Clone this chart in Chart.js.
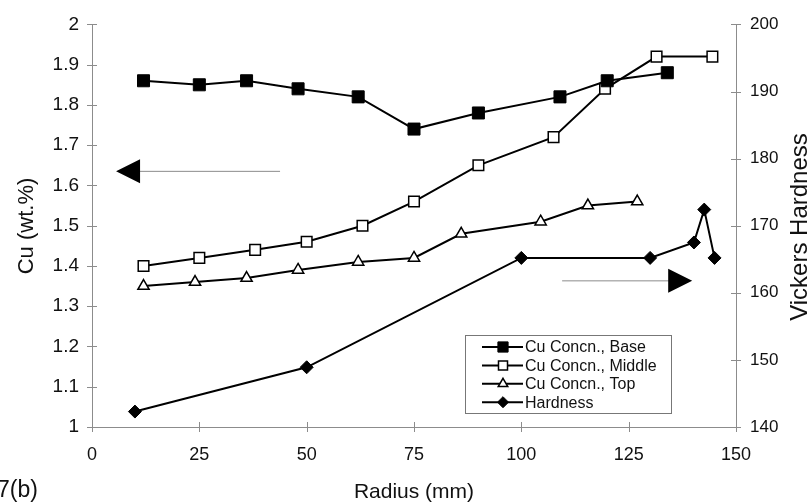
<!DOCTYPE html>
<html>
<head>
<meta charset="utf-8">
<style>
  html, body { margin: 0; padding: 0; background: #fff; }
  canvas { display: block; }
</style>
<script src="https://cdn.jsdelivr.net/npm/chart.js@4.4.0/dist/chart.umd.min.js"></script>
</head>
<body>
<canvas id="chartCanvas" width="811" height="503"></canvas>
<script>
// Radius (mm) and readings, taken off the figure
const baseRadius = [12, 25, 36, 48, 62, 75, 90, 109, 120, 134];
const baseCu = [1.86, 1.85, 1.86, 1.84, 1.82, 1.74, 1.78, 1.82, 1.86, 1.88];

const middleRadius = [12, 25, 38, 50, 63, 75, 90, 107.5, 119.5, 131.5, 144.5];
const middleCu = [1.40, 1.42, 1.44, 1.46, 1.50, 1.56, 1.65, 1.72, 1.84, 1.92, 1.92];

const topRadius = [12, 24, 36, 48, 62, 75, 86, 104.5, 115.5, 127];
const topCu = [1.35, 1.36, 1.37, 1.39, 1.41, 1.42, 1.48, 1.51, 1.55, 1.56];

const hardRadius = [10, 50, 100, 130, 140.2, 142.6, 145];
const hardness = [142.3, 148.9, 165.2, 165.2, 167.5, 172.4, 165.2];

const legendLabels = ['Cu Concn., Base', 'Cu Concn., Middle', 'Cu Concn., Top', 'Hardness'];
const xTitle = 'Radius (mm)';
const yTitle = 'Cu (wt.%)';
const y1Title = 'Vickers Hardness';
const panelLabel = '7(b)';

const FONT = '"Liberation Sans", Arial, sans-serif';
const AXIS_GREY = '#8c8c8c';

function toPoints(xs, ys) {
  return xs.map(function(x, i) { return { x: x, y: ys[i] }; });
}

// Crossing tick marks, arrows, titles and the boxed legend
const extrasPlugin = {
  id: 'extras',
  afterDraw(chart) {
    const ctx = chart.ctx;
    const area = chart.chartArea;
    const x = chart.scales.x;
    const y = chart.scales.y;
    const y1 = chart.scales.y1;

    ctx.save();
    ctx.strokeStyle = AXIS_GREY;
    ctx.lineWidth = 1;
    ctx.beginPath();
    x.ticks.forEach(function(t) {
      const px = Math.round(x.getPixelForValue(t.value)) + 0.5;
      ctx.moveTo(px, area.bottom - 5);
      ctx.lineTo(px, area.bottom + 5);
    });
    y.ticks.forEach(function(t) {
      const py = Math.round(y.getPixelForValue(t.value)) + 0.5;
      ctx.moveTo(area.left - 5, py);
      ctx.lineTo(area.left + 5, py);
    });
    y1.ticks.forEach(function(t) {
      const py = Math.round(y1.getPixelForValue(t.value)) + 0.5;
      ctx.moveTo(area.right - 5, py);
      ctx.lineTo(area.right + 5, py);
    });
    ctx.stroke();

    // arrow pointing at the left axis
    const ly = y.getPixelForValue(1.635);
    ctx.beginPath();
    ctx.moveTo(x.getPixelForValue(11), ly);
    ctx.lineTo(x.getPixelForValue(43.8), ly);
    ctx.stroke();
    ctx.fillStyle = '#000';
    ctx.beginPath();
    ctx.moveTo(x.getPixelForValue(5.6), ly);
    ctx.lineTo(x.getPixelForValue(11.2), ly - 12);
    ctx.lineTo(x.getPixelForValue(11.2), ly + 12);
    ctx.closePath();
    ctx.fill();

    // arrow pointing at the right axis
    const ry = y.getPixelForValue(1.363);
    ctx.beginPath();
    ctx.moveTo(x.getPixelForValue(109.5), ry);
    ctx.lineTo(x.getPixelForValue(134.5), ry);
    ctx.stroke();
    ctx.beginPath();
    ctx.moveTo(x.getPixelForValue(139.8), ry);
    ctx.lineTo(x.getPixelForValue(134.2), ry - 12);
    ctx.lineTo(x.getPixelForValue(134.2), ry + 12);
    ctx.closePath();
    ctx.fill();

    // axis titles
    ctx.fillStyle = '#111';
    ctx.textAlign = 'center';
    ctx.textBaseline = 'alphabetic';
    ctx.font = '21px ' + FONT;
    ctx.fillText(xTitle, (area.left + area.right) / 2, 498);

    ctx.save();
    ctx.translate(33, 226);
    ctx.rotate(-Math.PI / 2);
    ctx.font = '22px ' + FONT;
    ctx.fillText(yTitle, 0, 0);
    ctx.restore();

    ctx.save();
    ctx.translate(807, 227);
    ctx.rotate(-Math.PI / 2);
    ctx.font = '24px ' + FONT;
    ctx.fillText(y1Title, 0, 0);
    ctx.restore();

    ctx.textAlign = 'left';
    ctx.font = '23px ' + FONT;
    ctx.fillText(panelLabel, -3, 497);

    // legend box
    const bx = 465.5, by = 335.5, bw = 206, bh = 78;
    ctx.strokeStyle = '#777';
    ctx.lineWidth = 1;
    ctx.strokeRect(bx, by, bw, bh);
    ctx.font = '16px ' + FONT;
    ctx.textBaseline = 'middle';
    chart.data.datasets.forEach(function(ds, i) {
      const rowY = 347 + i * 18.4;
      ctx.strokeStyle = '#000';
      ctx.lineWidth = 2;
      ctx.beginPath();
      ctx.moveTo(482, rowY);
      ctx.lineTo(523, rowY);
      ctx.stroke();
      ctx.fillStyle = ds.pointBackgroundColor;
      ctx.lineWidth = ds.pointBorderWidth;
      Chart.helpers.drawPoint(ctx, {
        pointStyle: ds.pointStyle,
        radius: ds.pointRadius * 0.85,
        rotation: 0,
        borderWidth: ds.pointBorderWidth
      }, 503, rowY);
      ctx.fillStyle = '#111';
      ctx.fillText(legendLabels[i], 525, rowY + 1);
    });
    ctx.restore();
  }
};

const chartCanvas = document.getElementById('chartCanvas');

new Chart(chartCanvas, {
  type: 'line',
  data: {
    datasets: [
      {
        label: legendLabels[0],
        data: toPoints(baseRadius, baseCu),
        yAxisID: 'y',
        borderColor: '#000',
        borderWidth: 2,
        pointStyle: 'rect',
        pointRadius: 8.5,
        pointBackgroundColor: '#000',
        pointBorderColor: '#000',
        pointBorderWidth: 1
      },
      {
        label: legendLabels[1],
        data: toPoints(middleRadius, middleCu),
        yAxisID: 'y',
        borderColor: '#000',
        borderWidth: 2,
        pointStyle: 'rect',
        pointRadius: 7.5,
        pointBackgroundColor: '#fff',
        pointBorderColor: '#000',
        pointBorderWidth: 1.5
      },
      {
        label: legendLabels[2],
        data: toPoints(topRadius, topCu),
        yAxisID: 'y',
        borderColor: '#000',
        borderWidth: 2,
        pointStyle: 'triangle',
        pointRadius: 6.5,
        pointBackgroundColor: '#fff',
        pointBorderColor: '#000',
        pointBorderWidth: 1.5
      },
      {
        label: legendLabels[3],
        data: toPoints(hardRadius, hardness),
        yAxisID: 'y1',
        borderColor: '#000',
        borderWidth: 2,
        pointStyle: 'rectRot',
        pointRadius: 6.5,
        pointBackgroundColor: '#000',
        pointBorderColor: '#000',
        pointBorderWidth: 1
      }
    ]
  },
  options: {
    responsive: false,
    animation: false,
    layout: { padding: { top: 19, left: 0, right: 0, bottom: 0 } },
    elements: { line: { tension: 0 } },
    plugins: {
      legend: { display: false },
      tooltip: { enabled: false }
    },
    scales: {
      x: {
        type: 'linear',
        min: 0,
        max: 150,
        ticks: {
          stepSize: 25,
          color: '#111',
          padding: 17,
          font: { family: FONT, size: 18 }
        },
        grid: { display: true, drawOnChartArea: false, drawTicks: false },
        border: { color: AXIS_GREY, width: 1 },
        afterFit(scale) { scale.height = 76; }
      },
      y: {
        position: 'left',
        min: 1,
        max: 2,
        ticks: {
          stepSize: 0.1,
          color: '#111',
          padding: 13,
          font: { family: FONT, size: 19 },
          callback: function(v) { return String(Math.round(v * 10) / 10); }
        },
        grid: { display: true, drawOnChartArea: false, drawTicks: false },
        border: { color: AXIS_GREY, width: 1 },
        afterFit(scale) { scale.width = 92; }
      },
      y1: {
        position: 'right',
        min: 140,
        max: 200,
        ticks: {
          stepSize: 10,
          color: '#111',
          padding: 14,
          font: { family: FONT, size: 17 }
        },
        grid: { display: true, drawOnChartArea: false, drawTicks: false },
        border: { color: AXIS_GREY, width: 1 },
        afterFit(scale) { scale.width = 75; }
      }
    }
  },
  plugins: [extrasPlugin]
});
</script>
</body>
</html>
